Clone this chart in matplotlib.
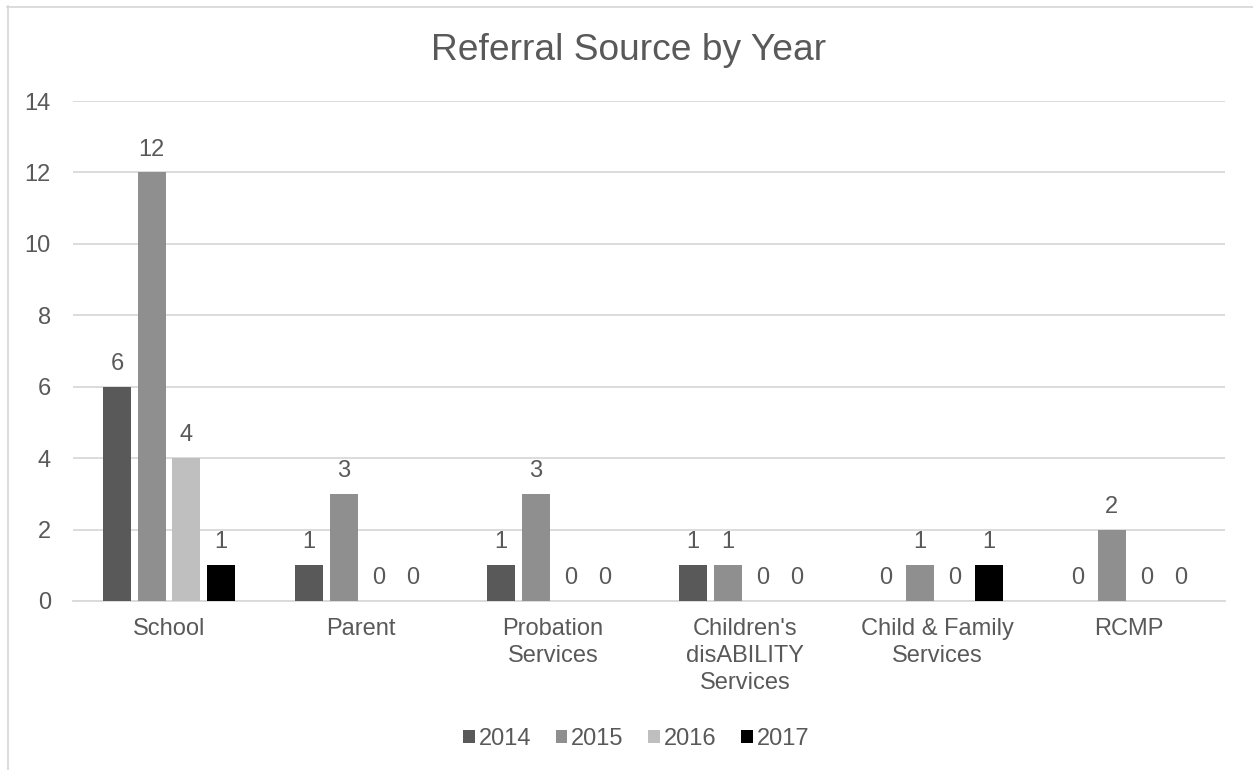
import matplotlib.pyplot as plt
from matplotlib.lines import Line2D
import numpy as np

plt.rcParams['font.family'] = ['Liberation Sans', 'DejaVu Sans']

# referral counts per source, one list per year
categories = ['School', 'Parent', 'Probation\nServices', "Children's\ndisABILITY\nServices",
              'Child & Family\nServices', 'RCMP']
years = ['2014', '2015', '2016', '2017']
y2014 = [6, 1, 1, 1, 0, 0]
y2015 = [12, 3, 3, 1, 1, 2]
y2016 = [4, 0, 0, 0, 0, 0]
y2017 = [1, 0, 0, 0, 1, 0]
series = [y2014, y2015, y2016, y2017]
colors = ['#595959', '#8f8f8f', '#bfbfbf', '#000000']

txt = '#595959'
grid = '#d9d9d9'
fs = 17

fig = plt.figure(figsize=(12.53, 7.70), dpi=100)
ax = fig.add_axes([0.0583, 0.2195, 0.9194, 0.6493])

x = np.arange(len(categories))
step = 0.18
width = 0.146
for i, (vals, c, yr) in enumerate(zip(series, colors, years)):
    pos = x + (i - 1.5) * step
    ax.bar(pos, vals, width=width, color=c, label=yr, zorder=3)
    for px, v in zip(pos, vals):
        ax.annotate(str(v), (px, v), xytext=(0, 8.5), textcoords='offset points',
                    ha='center', va='bottom', fontsize=fs, color=txt)

ax.set_xlim(-0.5, len(categories) - 0.5)
ax.set_ylim(0, 14)
ax.set_yticks(range(0, 15, 2))
ax.set_xticks(x)
ax.set_xticklabels(categories, linespacing=1.3)
ax.tick_params(axis='both', length=0, labelsize=fs, labelcolor=txt)
ax.tick_params(axis='y', pad=16)
ax.tick_params(axis='x', pad=12)
ax.yaxis.grid(True, color=grid, linewidth=1.3, zorder=0)
for s in ['top', 'right', 'left']:
    ax.spines[s].set_visible(False)
ax.spines['bottom'].set_color(grid)
ax.spines['bottom'].set_linewidth(1.3)

fig.text(0.502, 0.935, 'Referral Source by Year', ha='center', va='center',
         fontsize=26.7, color=txt)

ax.legend(loc='center', bbox_to_anchor=(0.4887, -0.276), ncol=4, frameon=False,
          fontsize=fs, labelcolor=txt, handlelength=0.5, handleheight=0.5,
          handletextpad=0.15, columnspacing=1.05)

# chart frame
fig.add_artist(Line2D([7.5 / 1253, 7.5 / 1253], [0, 1 - 6 / 770], color=grid, linewidth=1.3))
fig.add_artist(Line2D([7 / 1253, 1], [1 - 6.5 / 770, 1 - 6.5 / 770], color=grid, linewidth=1.3))

fig.savefig('out.png', dpi=100)
